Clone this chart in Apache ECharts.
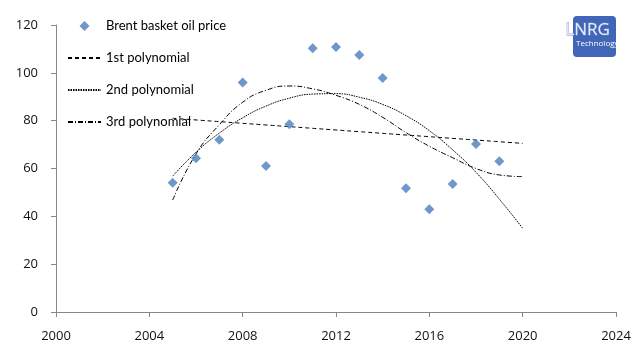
<!DOCTYPE html>
<html>
<head>
<meta charset="utf-8">
<script src="https://cdn.jsdelivr.net/npm/echarts@6/dist/echarts.min.js"></script>
<style>html,body{margin:0;padding:0;background:#fff}#c{width:640px;height:360px}</style>
</head>
<body>
<div id="c"></div>
<script>
// Observed data
const years = [2005,2006,2007,2008,2009,2010,2011,2012,2013,2014,2015,2016,2017,2018,2019];
const brentPrice = [54,64.3,72,96,61,78.5,110.3,110.8,107.5,97.8,51.7,43,53.5,70.2,63];
// Trend lines
const trendYears = [2005,2006,2007,2008,2009,2010,2011,2012,2013,2014,2015,2016,2017,2018,2019,2020];
const poly1 = [81,80.3,79.6,78.9,78.2,77.5,76.8,76.1,75.4,74.7,74,73.3,72.6,71.9,71.2,70.5];
const poly2 = [56.8,66.8,74.8,81.2,86.1,89.4,91.1,91.3,89.8,86.8,82.1,75.8,67.8,58.4,47.2,35];
const poly3 = [46.8,66.1,78.3,87.7,92.7,94.5,93.3,90.6,86.8,81.4,75,69.3,64.5,60,57.3,56.6];
const xTicks = [2000,2004,2008,2012,2016,2020,2024];
const yTicks = [0,20,40,60,80,100,120];
const names = ['Brent basket oil price','1st polynomial','2nd polynomial','3rd polynomial'];

const zip = (xs, ys) => xs.map((x, i) => [x, ys[i]]);
const chart = echarts.init(document.getElementById('c'), null, {renderer: 'canvas'});
const lineSeries = (name, data, dash) => ({
  name, type: 'line', data: zip(trendYears, data), smooth: true, symbol: 'none',
  lineStyle: {color: '#000', width: 1, type: dash}, itemStyle: {color: '#000'},
  silent: true, z: 1
});
const hiddenSym = {color: 'rgba(0,0,0,0)', borderWidth: 0, opacity: 0};
chart.setOption({
  animation: false,
  backgroundColor: '#fff',
  grid: {left: 56, right: 24, top: 25, bottom: 48},
  legend: {
    orient: 'vertical', left: 67, top: 19, padding: 0, itemWidth: 33, itemHeight: 10, itemGap: 18,
    symbolKeepAspect: true,
    textStyle: {fontFamily: 'Lato', fontSize: 13, color: '#000', lineHeight: 14},
    data: [
      {name: names[0], icon: 'path://M5,0L10,5L5,10L0,5Z'},
      {name: names[1], itemStyle: hiddenSym},
      {name: names[2], itemStyle: hiddenSym},
      {name: names[3], itemStyle: hiddenSym}
    ]
  },
  xAxis: {
    type: 'value', min: xTicks[0], max: xTicks[xTicks.length - 1], interval: 4,
    axisLine: {lineStyle: {color: '#888'}},
    axisTick: {length: 5, lineStyle: {color: '#888'}},
    splitLine: {show: false},
    axisLabel: {margin: 18, color: '#111', fontFamily: 'Open Sans', fontSize: 13, formatter: v => String(v)}
  },
  yAxis: {
    type: 'value', min: yTicks[0], max: yTicks[yTicks.length - 1], interval: 20,
    axisLine: {show: true, lineStyle: {color: '#888'}},
    axisTick: {show: true, length: 5, lineStyle: {color: '#888'}},
    splitLine: {show: false},
    axisLabel: {margin: 18, color: '#111', fontFamily: 'Open Sans', fontSize: 13}
  },
  series: [
    {name: names[0], type: 'scatter', data: zip(years, brentPrice), symbol: 'diamond', symbolSize: 10,
     itemStyle: {color: '#4A7EBB'}, z: 3},
    lineSeries(names[1], poly1, [4, 3]),
    lineSeries(names[2], poly2, [1.5, 1]),
    lineSeries(names[3], poly3, [5, 2, 1, 2])
  ],
  graphic: [
    {type: 'rect', left: 573, top: 16, shape: {width: 43, height: 41, r: 4}, style: {fill: '#4166B8'}},
    {type: 'text', left: 565, top: 21, style: {text: 'LNRG', fontFamily: 'Open Sans', fontSize: 17, fill: '#e4eaf7', stroke: '#6f8cd2', lineWidth: 0.8}},
    {type: 'text', left: 576, top: 40, style: {text: 'Technology', fontFamily: 'Open Sans', fontSize: 8, fill: '#fff'}}
  ]
});
</script>
</body>
</html>
